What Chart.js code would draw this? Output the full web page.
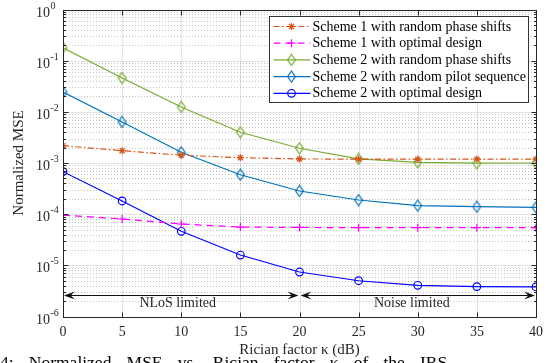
<!DOCTYPE html>
<html>
<head>
<meta charset="utf-8">
<script src="https://cdn.jsdelivr.net/npm/chart.js@4/dist/chart.umd.min.js"></script>
<style>
html, body { margin: 0; padding: 0; background: #fff; }
#wrap { width: 550px; height: 363px; }
</style>
</head>
<body>
<div id="wrap"><canvas id="chart" width="550" height="363"></canvas></div>
<script>
// values (Rician factor in dB, normalized MSE)
const kappa = [0, 5, 10, 15, 20, 25, 30, 35, 40];
const scheme1Random = [2.18e-3, 1.74e-3, 1.42e-3, 1.27e-3, 1.2e-3, 1.19e-3, 1.19e-3, 1.19e-3, 1.19e-3];
const scheme1Optimal = [9.6e-5, 8.05e-5, 6.43e-5, 5.6e-5, 5.5e-5, 5.45e-5, 5.45e-5, 5.45e-5, 5.45e-5];
const scheme2Random = [0.179, 0.0458, 0.01244, 0.00398, 0.00194, 0.0012, 0.00103, 0.00099, 0.001];
const scheme2Pilot = [0.0244, 0.00633, 0.00162, 0.00059, 0.000284, 0.000189, 0.000147, 0.00014, 0.000136];
const scheme2Optimal = [6.76e-4, 1.81e-4, 4.63e-5, 1.59e-5, 7.4e-6, 5.0e-6, 4.07e-6, 3.84e-6, 3.78e-6];

const seriesLabels = [
    "Scheme 1 with random phase shifts",
    "Scheme 1 with optimal design",
    "Scheme 2 with random phase shifts",
    "Scheme 2 with random pilot sequence",
    "Scheme 2 with optimal design"
];
const yExponents = [-6, -5, -4, -3, -2, -1, 0];
const regionLabels = ["NLoS limited", "Noise limited"];
const regionBounds = [[0, 20], [20, 40]];
const captionText = "4: Normalized MSE vs. Rician factor \u03ba of the IRS";

const FONT = "Liberation Serif";
const AXIS_COLOR = "#262626";

function diamondMarker(color) {
    let c = document.createElement("canvas");
    c.width = 11;
    c.height = 13;
    let g = c.getContext("2d");
    g.strokeStyle = color;
    g.lineWidth = 1.2;
    g.beginPath();
    g.moveTo(5.5, 1);
    g.lineTo(9.4, 6.5);
    g.lineTo(5.5, 12);
    g.lineTo(1.6, 6.5);
    g.closePath();
    g.stroke();
    return c;
}

function toPoints(values) {
    return kappa.map((k, i) => ({ x: k, y: values[i] }));
}

function makeSet(label, values, color, dash, pointStyle, radius) {
    return {
        label: label,
        data: toPoints(values),
        borderColor: color,
        backgroundColor: color,
        borderWidth: 1.2,
        borderDash: dash,
        pointStyle: pointStyle,
        pointRadius: radius,
        pointBorderWidth: 1.2,
        pointBackgroundColor: "rgba(0,0,0,0)",
        pointBorderColor: color,
        tension: 0,
        fill: false
    };
}

let dataSets = [
    makeSet(seriesLabels[0], scheme1Random, "#D95319", [6, 2.5, 1.5, 2.5], "star", 3.6),
    makeSet(seriesLabels[1], scheme1Optimal, "#FF00FF", [7, 5], "cross", 4),
    makeSet(seriesLabels[2], scheme2Random, "#77AC30", [], diamondMarker("#77AC30"), 5),
    makeSet(seriesLabels[3], scheme2Pilot, "#0072BD", [], diamondMarker("#0072BD"), 5),
    makeSet(seriesLabels[4], scheme2Optimal, "#0000FF", [], "circle", 3.8)
];

function arrowHead(ctx, tipX, y, dir) {
    let len = 11, half = 4;
    ctx.beginPath();
    ctx.moveTo(tipX, y);
    ctx.lineTo(tipX - dir * len, y - half);
    ctx.lineTo(tipX - dir * len * 0.6, y);
    ctx.lineTo(tipX - dir * len, y + half);
    ctx.closePath();
    ctx.fill();
}

const matlabAxes = {
    id: "matlabAxes",
    beforeDatasetsDraw(chart) {
        let ctx = chart.ctx;
        let area = chart.chartArea;
        let xs = chart.scales.x;
        let ys = chart.scales.y;
        ctx.save();

        // minor grid (dotted)
        ctx.strokeStyle = "rgba(38,38,38,0.28)";
        ctx.lineWidth = 1;
        ctx.setLineDash([1, 2]);
        for (let e = -6; e < 0; e++) {
            for (let m = 2; m <= 9; m++) {
                let y = Math.round(ys.getPixelForValue(m * Math.pow(10, e))) + 0.5;
                ctx.beginPath();
                ctx.moveTo(area.left, y);
                ctx.lineTo(area.right, y);
                ctx.stroke();
            }
        }

        // major grid
        ctx.setLineDash([]);
        ctx.strokeStyle = "rgba(38,38,38,0.13)";
        for (let e of yExponents) {
            let y = Math.round(ys.getPixelForValue(Math.pow(10, e))) + 0.5;
            ctx.beginPath();
            ctx.moveTo(area.left, y);
            ctx.lineTo(area.right, y);
            ctx.stroke();
        }
        for (let t of xs.ticks) {
            let x = Math.round(xs.getPixelForValue(t.value)) + 0.5;
            ctx.beginPath();
            ctx.moveTo(x, area.top);
            ctx.lineTo(x, area.bottom);
            ctx.stroke();
        }
        ctx.restore();
    },
    afterDatasetsDraw(chart) {
        let ctx = chart.ctx;
        let area = chart.chartArea;
        let xs = chart.scales.x;
        let ys = chart.scales.y;
        let left = Math.round(area.left) + 0.5;
        let right = Math.round(area.right) + 0.5;
        let top = Math.round(area.top) + 0.5;
        let bottom = Math.round(area.bottom) + 0.5;
        ctx.save();

        // frame and inward ticks
        ctx.strokeStyle = AXIS_COLOR;
        ctx.lineWidth = 1;
        ctx.strokeRect(left, top, right - left, bottom - top);
        ctx.beginPath();
        for (let t of xs.ticks) {
            let x = Math.round(xs.getPixelForValue(t.value)) + 0.5;
            ctx.moveTo(x, bottom);
            ctx.lineTo(x, bottom - 5);
            ctx.moveTo(x, top);
            ctx.lineTo(x, top + 5);
        }
        for (let e of yExponents) {
            let y = Math.round(ys.getPixelForValue(Math.pow(10, e))) + 0.5;
            ctx.moveTo(left, y);
            ctx.lineTo(left + 5, y);
            ctx.moveTo(right, y);
            ctx.lineTo(right - 5, y);
        }
        for (let e = -6; e < 0; e++) {
            for (let m = 2; m <= 9; m++) {
                let y = Math.round(ys.getPixelForValue(m * Math.pow(10, e))) + 0.5;
                ctx.moveTo(left, y);
                ctx.lineTo(left + 2.5, y);
                ctx.moveTo(right, y);
                ctx.lineTo(right - 2.5, y);
            }
        }
        ctx.stroke();

        // y tick labels with superscript exponents
        ctx.fillStyle = AXIS_COLOR;
        for (let e of yExponents) {
            let y = ys.getPixelForValue(Math.pow(10, e));
            ctx.font = "14px '" + FONT + "'";
            ctx.textAlign = "right";
            ctx.textBaseline = "alphabetic";
            ctx.fillText("10", area.left - 13, y + 7);
            ctx.font = "10px '" + FONT + "'";
            ctx.textAlign = "left";
            ctx.fillText(String(e), area.left - 12.5, y - 1);
        }

        // region arrows and labels
        let arrowY = Math.round(ys.getPixelForValue(2.67e-6)) + 0.5;
        let textY = ys.getPixelForValue(1.84e-6);
        let textCenters = [9.7, 29.5];
        ctx.strokeStyle = "#111";
        ctx.fillStyle = "#111";
        for (let i = 0; i < regionBounds.length; i++) {
            let x0 = xs.getPixelForValue(regionBounds[i][0]);
            let x1 = xs.getPixelForValue(regionBounds[i][1]);
            ctx.beginPath();
            ctx.moveTo(x0 + 4, arrowY);
            ctx.lineTo(x1 - 4, arrowY);
            ctx.stroke();
            arrowHead(ctx, x0 + 1, arrowY, -1);
            arrowHead(ctx, x1 - 1, arrowY, 1);
            ctx.font = "14px '" + FONT + "'";
            ctx.textAlign = "center";
            ctx.textBaseline = "middle";
            ctx.fillStyle = AXIS_COLOR;
            ctx.fillText(regionLabels[i], xs.getPixelForValue(textCenters[i]), textY);
            ctx.fillStyle = "#111";
        }

        // legend box
        ctx.font = "14px '" + FONT + "'";
        let maxW = 0;
        for (let ds of chart.data.datasets) {
            maxW = Math.max(maxW, ctx.measureText(ds.label).width);
        }
        let boxRight = Math.round(area.right - 8) + 0.5;
        let boxLeft = Math.round(boxRight - (43 + maxW + 3)) + 0.5;
        let boxTop = Math.round(area.top + 6) + 0.5;
        let rowH = 16.7;
        let boxBottom = Math.round(boxTop + 10 + rowH * 4 + 9) + 0.5;
        ctx.fillStyle = "#fff";
        ctx.fillRect(boxLeft, boxTop, boxRight - boxLeft, boxBottom - boxTop);
        ctx.strokeStyle = "#333";
        ctx.lineWidth = 1;
        ctx.strokeRect(boxLeft, boxTop, boxRight - boxLeft, boxBottom - boxTop);
        chart.data.datasets.forEach((ds, i) => {
            let y = boxTop + 10 + i * rowH;
            ctx.save();
            ctx.strokeStyle = ds.borderColor;
            ctx.lineWidth = ds.borderWidth;
            ctx.setLineDash(ds.borderDash);
            ctx.beginPath();
            ctx.moveTo(boxLeft + 4, y);
            ctx.lineTo(boxLeft + 41, y);
            ctx.stroke();
            ctx.setLineDash([]);
            ctx.lineWidth = ds.pointBorderWidth;
            ctx.fillStyle = "rgba(0,0,0,0)";
            Chart.helpers.drawPoint(ctx, {
                pointStyle: ds.pointStyle,
                radius: ds.pointRadius,
                rotation: 0,
                borderWidth: ds.pointBorderWidth
            }, boxLeft + 22, y);
            ctx.restore();
            ctx.fillStyle = "#000";
            ctx.textAlign = "left";
            ctx.textBaseline = "middle";
            ctx.font = "14px '" + FONT + "'";
            ctx.fillText(ds.label, boxLeft + 43, y + 0.5);
        });

        // figure caption, cut off by the bottom edge
        ctx.fillStyle = "#000";
        ctx.font = "17.5px '" + FONT + "'";
        ctx.textAlign = "left";
        ctx.textBaseline = "alphabetic";
        ctx.wordSpacing = "10.8px";
        ctx.fillText(captionText, 0, 368);
        ctx.restore();
    }
};

let canvas = document.getElementById("chart");
new Chart(canvas.getContext("2d"), {
    type: "line",
    data: { datasets: dataSets },
    plugins: [matlabAxes],
    options: {
        responsive: false,
        animation: false,
        devicePixelRatio: 1,
        layout: { padding: { left: 0, right: 11, top: 9.5, bottom: 0 } },
        plugins: {
            legend: { display: false },
            tooltip: { enabled: false }
        },
        scales: {
            x: {
                type: "linear",
                min: 0,
                max: 40,
                ticks: {
                    stepSize: 5,
                    maxRotation: 0,
                    padding: 7,
                    color: AXIS_COLOR,
                    font: { family: FONT, size: 14 }
                },
                grid: { display: false, drawTicks: false },
                border: { display: false },
                title: {
                    display: true,
                    text: "Rician factor \u03ba (dB)",
                    color: AXIS_COLOR,
                    font: { family: FONT, size: 15 },
                    padding: { top: 0, bottom: 4 }
                },
                afterFit(scale) { scale.height = 46.5; }
            },
            y: {
                type: "logarithmic",
                min: 1e-6,
                max: 1,
                ticks: { display: false },
                grid: { display: false, drawTicks: false },
                border: { display: false },
                title: {
                    display: true,
                    text: "Normalized MSE",
                    color: AXIS_COLOR,
                    font: { family: FONT, size: 15 },
                    padding: { top: 10, bottom: 0 }
                },
                afterFit(scale) { scale.width = 63; }
            }
        }
    }
});
</script>
</body>
</html>
